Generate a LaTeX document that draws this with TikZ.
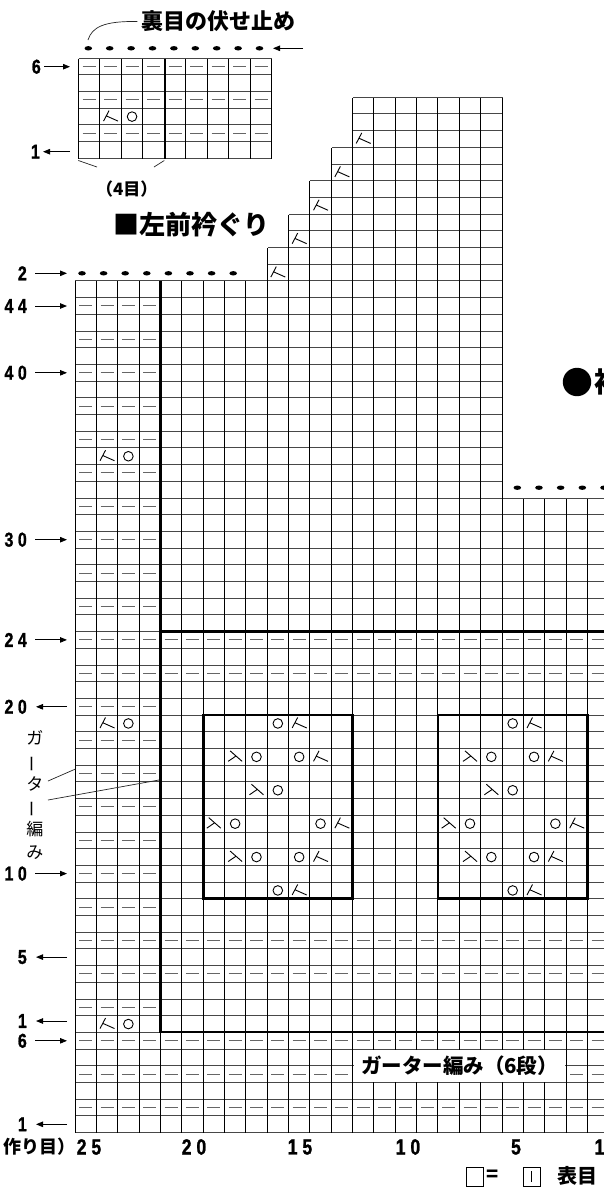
\documentclass[tikz,border=0pt]{standalone}
\usepackage{fontspec}
\setmainfont{Liberation Sans}
\newfontfamily\jp{Noto Sans CJK JP}
\newfontfamily\numf{Liberation Sans}[BoldFeatures={FakeBold=1.3}]
\usetikzlibrary{arrows.meta}
\newcommand\nmb[2]{{\fontsize{#1}{#1}\selectfont\numf\bfseries\scalebox{0.8}[1]{#2}}}
\newcommand\jpt[2]{{\fontsize{#1}{#1}\selectfont\jp\bfseries #2}}
\newcommand\dg{\kern.28em}
\newcommand\symRen[1]{\draw[sym] #1 +(-1.5,-6) -- +(-7,4.5) +(-4.2,-0.7) -- +(7.5,4.5);}
\newcommand\symLam[1]{\draw[sym] #1 +(-5,-6) -- +(7,4.5) +(0.5,-0.6) -- +(-7,4.5);}
\newcommand\symYo[1]{\draw[sym] #1 circle[radius=4.8];}
\newcommand\kren[2]{\symRen{({75+(25-(#1))*21.35+10.675},{1132.6-((#2)-0.5)*16.7})}}
\newcommand\klam[2]{\symLam{({75+(25-(#1))*21.35+10.675},{1132.6-((#2)-0.5)*16.7})}}
\newcommand\kyo[2]{\symYo{({75+(25-(#1))*21.35+10.675},{1132.6-((#2)-0.5)*16.7})}}
\newcommand\kdash[2]{\draw[dsh] ({75+(25-(#1))*21.35+4.2},{floor(1132.6-((#2)-0.5)*16.7)+0.5}) -- ++(13,0);}
\begin{document}
\begin{tikzpicture}[x=1pt,y=-1pt,
  gl/.style={line width=1.2pt,black},
  hl/.style={line width=1.4pt,black!72},
  thk/.style={line width=2.8pt,black},
  dsh/.style={line width=1.4pt,black!60},
  sym/.style={line width=0.9pt,black},
  arr/.style={line width=0.9pt,-{Triangle[length=7pt,width=5.5pt]}},
  rl/.style={inner sep=0pt,anchor=east},
  lead/.style={line width=0.7pt,black!85},
  bdot/.style={black}]
\useasboundingbox (0,0) rectangle (604,1197);
\clip (0,0) rectangle (604,1197);
\fill[white] (0,0) rectangle (604,1197);

% ---------- main grid ----------
\foreach \k in {0,...,38} \draw[hl] (75,{floor(1132.6-\k*16.7)+0.5}) -- (612,{floor(1132.6-\k*16.7)+0.5});
\foreach \k in {39,...,51} \draw[hl] (75,{floor(1132.6-\k*16.7)+0.5}) -- (502.5,{floor(1132.6-\k*16.7)+0.5});
\foreach \k/\xl in {52/267.5,53/267.5,54/288.5,55/288.5,56/309.5,57/309.5,58/331.5,59/331.5,60/352.5,61/352.5,62/352.5}
  \draw[hl] (\xl,{floor(1132.6-\k*16.7)+0.5}) -- (502.5,{floor(1132.6-\k*16.7)+0.5});
\foreach \b/\t in {0/51,1/51,2/51,3/51,4/51,5/51,6/51,7/51,8/51,9/53,10/55,11/57,12/59,13/62,14/62,15/62,16/62,17/62,18/62,19/62,20/62,21/38,22/38,23/38,24/38}
  \draw[gl] ({floor(75+\b*21.35)+0.5},{floor(1132.6)+0.5}) -- ({floor(75+\b*21.35)+0.5},{floor(1132.6-\t*16.7)+0.5});

% dashes (purl)
\foreach \r in {2,4,...,44} {\foreach \c in {22,...,25} {\kdash{\c}{\r+6}}}
\foreach \R in {30,28,12,10} {\foreach \c in {1,...,21} {\kdash{\c}{\R}}}
\foreach \R in {6,2} {\foreach \c in {1,...,25} {\kdash{\c}{\R}}}
\foreach \c in {13,...,25} {\kdash{\c}{4}}
\foreach \c in {1,2} {\kdash{\c}{4}}

% eyelets on the border
\foreach \R in {7,25,41} {\kren{24}{\R}\kyo{23}{\R}}

% lace motifs
\foreach \b in {19,8} {
  \kyo{\b-3}{25}\kren{\b-4}{25}
  \klam{\b-1}{23}\kyo{\b-2}{23}\kyo{\b-4}{23}\kren{\b-5}{23}
  \klam{\b-2}{21}\kyo{\b-3}{21}
  \klam{\b}{19}\kyo{\b-1}{19}\kyo{\b-5}{19}\kren{\b-6}{19}
  \klam{\b-1}{17}\kyo{\b-2}{17}\kyo{\b-4}{17}\kren{\b-5}{17}
  \kyo{\b-3}{15}\kren{\b-4}{15}
}

% neckline decreases
\kren{16}{52}\kren{15}{54}\kren{14}{56}\kren{13}{58}\kren{12}{60}

% thick lines
\draw[thk] (160.5,280.5) -- (160.5,1032) -- (612,1032);
\draw[thk] (160.5,631.5) -- (612,631.5);
\draw[thk] (203.5,715) rectangle (352.5,898.5);
\draw[thk] (438,715) rectangle (587.5,898.5);

% bind-off dots
\foreach \i in {0,...,7} \fill[bdot] ({82+\i*21.6},273.3) ellipse[x radius=3.8,y radius=2.2];
\foreach \i in {0,...,4} \fill[bdot] ({517.3+\i*21.67},487.7) ellipse[x radius=3.8,y radius=2.2];

% garter label box
\fill[white] (353.8,1050) rectangle (565,1081.6);
\node[inner sep=0pt] (gband) at (459.5,1065.8) {\jpt{20.5}{ガーター編み（6段）}};

% ---------- inset ----------
\foreach \k in {0,...,6} \draw[hl] (78.5,{floor(58.3+\k*16.67)+0.5}) -- (271.5,{floor(58.3+\k*16.67)+0.5});
\foreach \b in {0,...,9} \draw[gl] ({floor(78.3+\b*21.5)+0.5},58.5) -- ({floor(78.3+\b*21.5)+0.5},158.5);
\draw[line width=2pt] (164.5,58.5) -- (164.5,158.5);
\foreach \j in {0,2,4} {\foreach \i in {0,...,8} {\draw[dsh] ({78.3+\i*21.5+4.2},{floor(58.3+(\j+0.5)*16.67)+0.5}) -- ++(13,0);}}
\symRen{(110.55,116.6)}
\symYo{(132.05,116.6)}
\foreach \i in {0,...,8} \fill[bdot] ({88.3+\i*21.4},48.3) ellipse[x radius=3.8,y radius=2.2];
\coordinate (iarS) at (303,48.3);
\coordinate (iarE) at (273,48.3);
\draw[arr] (iarS) -- (iarE);
\node[inner sep=0pt] (ura) at (218.5,21.5) {\jpt{22}{裏目の伏せ止め}};
\coordinate (uraend) at (88,40);
\draw[lead] ([xshift=-4pt]ura.west) .. controls (104,21) and (92,27) .. (uraend);
\node[rl] (i6) at (41,66.7) {\nmb{20}{6}};
\draw[arr] ([xshift=3pt]i6.east) -- (70,66.7);
\node[rl] (i1) at (40,151.7) {\nmb{20}{1}};
\draw[arr] (70,151.7) -- ([xshift=3pt]i1.east);
\draw[lead] (78.3,160.5) -- (97,167);
\draw[lead] (164.3,160.5) -- (154,167);
\node[inner sep=0pt] (four) at (126.7,189.5) {\jpt{17}{（4目）}};
\node[inner sep=0pt] (title) at (191,225) {\jpt{26}{■左前衿ぐり}};

% ---------- row labels ----------
\foreach \nm/\y/\txt in {a/273.3/2,b/306/4\dg4,c/372.8/4\dg0,d/539.7/3\dg0,e/639.9/2\dg4,h/873.6/1\dg0,k/1040.8/6}{
  \node[rl] (r\nm) at (27,\y) {\nmb{20}{\txt}};
  \draw[arr] (35,\y) -- (67,\y);
}
\foreach \nm/\y/\txt in {f/706.8/2\dg0,i/957.1/5,j/1021/1,l/1124.3/1}{
  \node[rl] (r\nm) at (27,\y) {\nmb{20}{\txt}};
  \draw[arr] (67,\y) -- (36,\y);
}

% vertical garter label
\node[inner sep=0pt,align=center,font=\fontsize{17}{22.8}\selectfont\jp] (vlab) at (35,795)
  {ガ\\\rotatebox[origin=c]{90}{ー}\\タ\\\rotatebox[origin=c]{90}{ー}\\編\\み};
\coordinate (ld1) at (75.5,769);
\coordinate (ld2) at (159,780);
\draw[lead] (48,781) -- (ld1);
\draw[lead] (48,800) -- (ld2);

% ---------- column numbers ----------
\node[rl] (tsukuri) at (76,1147) {\jpt{18}{作り目）}};
\foreach \nm/\x/\txt in {c25/89/2\dg5,c20/194/2\dg0,c15/300/1\dg5,c10/408/1\dg0,c5/516/5,c1/599.5/1}
  \node[inner sep=0pt] (\nm) at (\x,1147) {\nmb{22}{\txt}};

% ---------- legend ----------
\draw[line width=0.9pt] (466,1167) rectangle (483,1186);
\node[inner sep=0pt] (eq) at (493,1176) {\jpt{20}{=}};
\draw[line width=0.9pt] (523,1167) rectangle (540,1186);
\draw[line width=0.8pt] (531.5,1171) -- (531.5,1182);
\node[inner sep=0pt,anchor=west] (omote) at (557,1176) {\jpt{20}{表目}};

% ---------- partial heading right ----------
\fill (577,382) circle[radius=14.2];
\node[inner sep=0pt,anchor=west] (sode) at (594,382) {\jpt{28}{袖ぐり}};
\end{tikzpicture}
\end{document}
